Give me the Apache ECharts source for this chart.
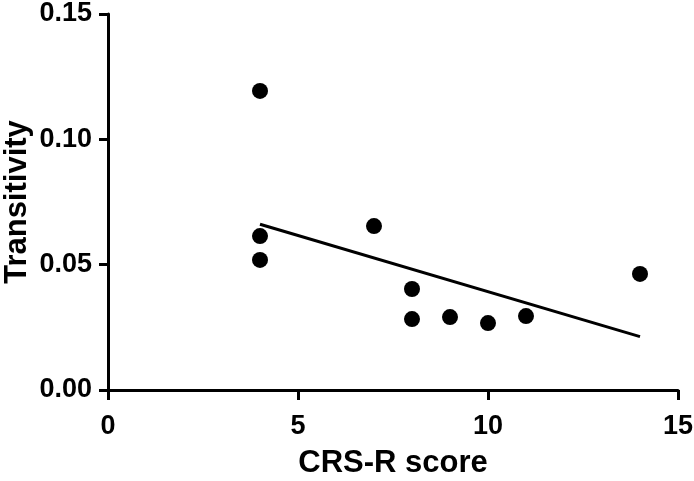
<!DOCTYPE html>
<html>
<head>
<meta charset="utf-8">
<script src="https://cdn.jsdelivr.net/npm/echarts@6/dist/echarts.min.js"></script>
<style>html,body{margin:0;padding:0;background:#fff}#c{width:694px;height:481px}</style>
</head>
<body>
<div id="c"></div>
<script>
const crsScore = [4, 4, 4, 7, 8, 8, 9, 10, 11, 14];
const transitivity = [0.1193, 0.0614, 0.0519, 0.0654, 0.0403, 0.0283, 0.0291, 0.0267, 0.0295, 0.0463];
const fitX = [4, 14];
const fitY = [0.0661, 0.0213];
const xTicks = [0, 5, 10, 15];
const yTicks = [0.00, 0.05, 0.10, 0.15];

const font = 'Liberation Sans, Arial, sans-serif';
const chart = echarts.init(document.getElementById('c'), null, {renderer: 'canvas'});
chart.setOption({
  animation: false,
  backgroundColor: '#fff',
  grid: {left: 108, right: 16, top: 14, bottom: 91, containLabel: false, outerBoundsMode: 'none'},
  xAxis: {
    type: 'value', min: xTicks[0], max: xTicks[xTicks.length - 1], interval: 5,
    name: 'CRS-R score', nameLocation: 'middle', nameGap: 58, nameMoveOverlap: false,
    nameTextStyle: {fontFamily: font, fontWeight: 'bold', fontSize: 31, color: '#000'},
    axisLine: {show: true, lineStyle: {color: '#000', width: 3}},
    axisTick: {show: true, length: 10, lineStyle: {color: '#000', width: 3}},
    axisLabel: {fontFamily: font, fontWeight: 'bold', fontSize: 27, color: '#000', margin: 23},
    splitLine: {show: false}
  },
  yAxis: {
    type: 'value', min: yTicks[0], max: yTicks[yTicks.length - 1], interval: 0.05,
    name: 'Transitivity', nameLocation: 'middle', nameGap: 75, nameMoveOverlap: false,
    nameTextStyle: {fontFamily: font, fontWeight: 'bold', fontSize: 31, color: '#000'},
    axisLine: {show: true, lineStyle: {color: '#000', width: 3}},
    axisTick: {show: true, length: 9, lineStyle: {color: '#000', width: 3}},
    axisLabel: {fontFamily: font, fontWeight: 'bold', fontSize: 27, color: '#000', margin: 16,
      formatter: v => v.toFixed(2)},
    splitLine: {show: false}
  },
  series: [
    {
      type: 'scatter', symbol: 'circle', symbolSize: 16,
      itemStyle: {color: '#000', opacity: 1},
      data: crsScore.map((x, i) => [x, transitivity[i]])
    },
    {
      type: 'line', symbol: 'none',
      lineStyle: {color: '#000', width: 3},
      data: fitX.map((x, i) => [x, fitY[i]])
    }
  ]
});
</script>
</body>
</html>
